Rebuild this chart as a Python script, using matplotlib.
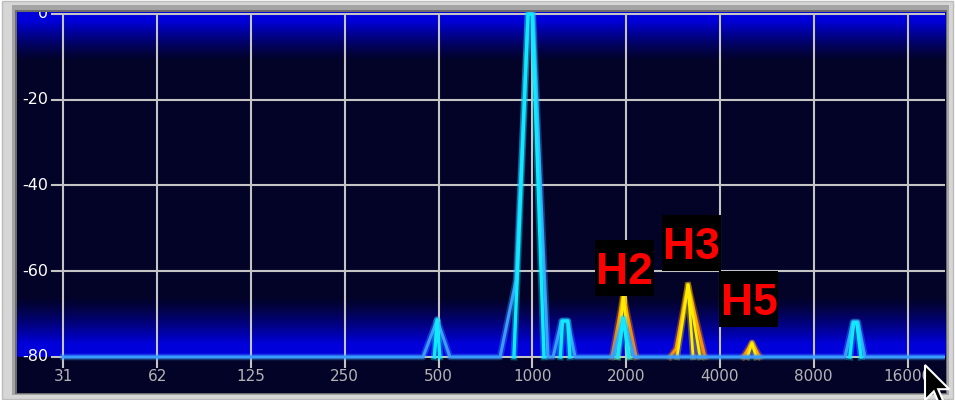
import matplotlib
matplotlib.use('Agg')
import matplotlib.pyplot as plt
import numpy as np
from matplotlib.patches import Rectangle, Polygon
from matplotlib.transforms import IdentityTransform

# eixos
x_ticks = [31.25, 62.5, 125, 250, 500, 1000, 2000, 4000, 8000, 16000]
x_labels = ['31', '62', '125', '250', '500', '1000', '2000', '4000', '8000', '16000']
y_ticks = [0, -20, -40, -60, -80]
y_labels = ['0', '-20', '-40', '-60', '-80']

# traço azul claro (linha de base + picos)
azul_f = [31.25, 446, 495, 544, 788, 887, 969, 1005, 1123, 1166, 1240, 1300, 1372,
          1815, 1960, 2122, 10078, 10688, 11097, 11688, 20800]
azul_db = [-80, -80, -71.3, -80, -80, -62, 0, 0, -80, -80, -71.6, -71.6, -80,
           -80, -71, -80, -80, -71.8, -71.8, -80, -80]

# traço ciano (picos estreitos, nan separa)
ciano_f = [485, 495, 505, np.nan, 873, 969, 1000, 1090, np.nan,
           1230, 1250, 1300, 1320, np.nan, 1880, 1960, 2040, np.nan,
           10450, 10750, 11000, 11350]
ciano_db = [-80, -71.3, -80, np.nan, -80, 0, 0, -80, np.nan,
            -80, -71.6, -71.6, -80, np.nan, -80, -71, -80, np.nan,
            -80, -72, -72, -80]

# harmônicos (laranja por fora, amarelo por dentro)
laranja_f = [1803, 1960, 2153, np.nan, 2766, 2891, 3160, 3582, np.nan, 4744, 5070, 5378]
laranja_db = [-80, -65.5, -80, np.nan, -80, -78, -63.2, -80, np.nan, -80, -76.7, -80]
amarelo_f = [1880, 1960, 2050, np.nan, 2914, 3160, 3453, np.nan, 3160, 3281, np.nan, 4900, 5070, 5230]
amarelo_db = [-80, -65.5, -80, np.nan, -80, -63.2, -80, np.nan, -63.2, -80, np.nan, -80, -76.7, -80]

# rótulos dos harmônicos
harm_nomes = ['H2', 'H3', 'H5']
harm_f = [1960, 3160, 5070]
harm_db = [-65.5, -63.2, -76.7]
harm_offset = [(1, 27), (3, 42), (-3, 44)]

W, H = 955, 400
fig = plt.figure(figsize=(W / 100, H / 100), dpi=100)
fig.patch.set_facecolor('white')

# moldura da janela
fig.add_artist(Rectangle((2 / W, 1 / H), 951 / W, 398 / H, transform=fig.transFigure,
                         facecolor='#d6d6d6', edgecolor='#bcbcbc', lw=1, zorder=-10))
fig.add_artist(Rectangle((12 / W, 5 / H), 937 / W, 390 / H, transform=fig.transFigure,
                         facecolor='#a4a4a4', edgecolor='none', zorder=-9))
fig.add_artist(Rectangle((15 / W, 6 / H), 932 / W, 384 / H, transform=fig.transFigure,
                         facecolor='#6c6c6c', edgecolor='none', zorder=-8))

# painel: x 17..945 px, y 12..393 px (topo)
px0, px1, py0, py1 = 17, 945, 12, 393
pos = [px0 / W, (H - py1) / H, (px1 - px0) / W, (py1 - py0) / H]

def px2f(px):
    return 31.25 * 2 ** ((px - 63.3) / 93.8)

def py2db(py):
    return -(py - 14) / 4.2875

xlim = (px2f(px0), px2f(px1))
ylim = (py2db(py1), py2db(py0))

# fundo em degradê
bg = fig.add_axes(pos)
v = np.linspace(ylim[1], ylim[0], 800)
t = np.zeros_like(v)
t[v > -1.5] = 1
m = (v <= -1.5) & (v > -11)
t[m] = ((v[m] + 11) / 9.5) ** 1.3
m = (v <= -66) & (v > -77)
t[m] = ((-66 - v[m]) / 11) ** 1.3
t[(v <= -77) & (v >= -80)] = 1
navy = np.array([0.012, 0.012, 0.16])
azul = np.array([0.0, 0.0, 0.86])
img = navy[None, :] * (1 - t[:, None]) + azul[None, :] * t[:, None]
bg.imshow(img[:, None, :], aspect='auto', extent=[0, 1, ylim[0], ylim[1]], interpolation='bilinear')
bg.set_xlim(0, 1)
bg.set_ylim(ylim)
bg.axis('off')

ax = fig.add_axes(pos)
ax.patch.set_alpha(0)
ax.set_xscale('log', base=2)
ax.set_xlim(xlim)
ax.set_ylim(ylim)
ax.set_xticks([])
ax.set_yticks([])
ax.minorticks_off()
for s in ax.spines.values():
    s.set_visible(False)

grade = '#c4c4c4'
xfrac = (52 - px0) / (px1 - px0)
for yv in y_ticks:
    ax.axhline(yv, xmin=xfrac, xmax=1, color=grade, lw=1.5, zorder=1)
ax.vlines(x_ticks, py2db(368), 0, color=grade, lw=1.5, zorder=1)

# rótulos
for yv, lab in zip(y_ticks, y_labels):
    ax.text((48 - px0) / (px1 - px0), yv, lab, transform=ax.get_yaxis_transform(),
            ha='right', va='center', color='white', fontsize=11.5, clip_on=True, zorder=5)
for xv, lab in zip(x_ticks, x_labels):
    ax.text(xv, py2db(377), lab, ha='center', va='center', color='#b4b4b4',
            fontsize=11, zorder=5)

# traços com brilho
def traco(f, db, cor, lw):
    ax.plot(f, db, color=cor, lw=lw + 2.5, alpha=0.35, solid_joinstyle='round', zorder=3)
    ax.plot(f, db, color=cor, lw=lw, solid_joinstyle='round', zorder=3)

traco(laranja_f, laranja_db, '#ff8a00', 2.2)
traco(amarelo_f, amarelo_db, '#ffee00', 2.0)
traco(azul_f, azul_db, '#3a9cff', 2.2)
traco(ciano_f, ciano_db, '#10eaff', 2.4)

# caixas pretas com H2/H3/H5 (em pixels a partir do pico)
ident = IdentityTransform()
for nome, f, db, off in zip(harm_nomes, harm_f, harm_db, harm_offset):
    cx, cy = ax.transData.transform((f, db))
    cx, cy = cx + off[0], cy + off[1]
    ax.add_patch(Rectangle((cx - 29.5, cy - 28), 59, 56, transform=ident,
                           facecolor='black', edgecolor='none', zorder=6, clip_on=False))
    ax.text(cx, cy - 16, nome, transform=ident, ha='center', va='baseline',
            color='#ff0000', fontsize=32, fontweight='bold', family='Liberation Sans',
            zorder=7)

# cursor do mouse
s = 2.2
forma = [(0, 0), (0, 16), (4, 12), (7, 19), (9, 18), (6, 11), (11, 11)]
pts = [((925 + s * dx) / W, (H - 365 - s * dy) / H) for dx, dy in forma]
fig.add_artist(Polygon(pts, closed=True, transform=fig.transFigure,
                       facecolor='black', edgecolor='white', lw=1.5, zorder=10))

fig.savefig('out.png', dpi=100)
